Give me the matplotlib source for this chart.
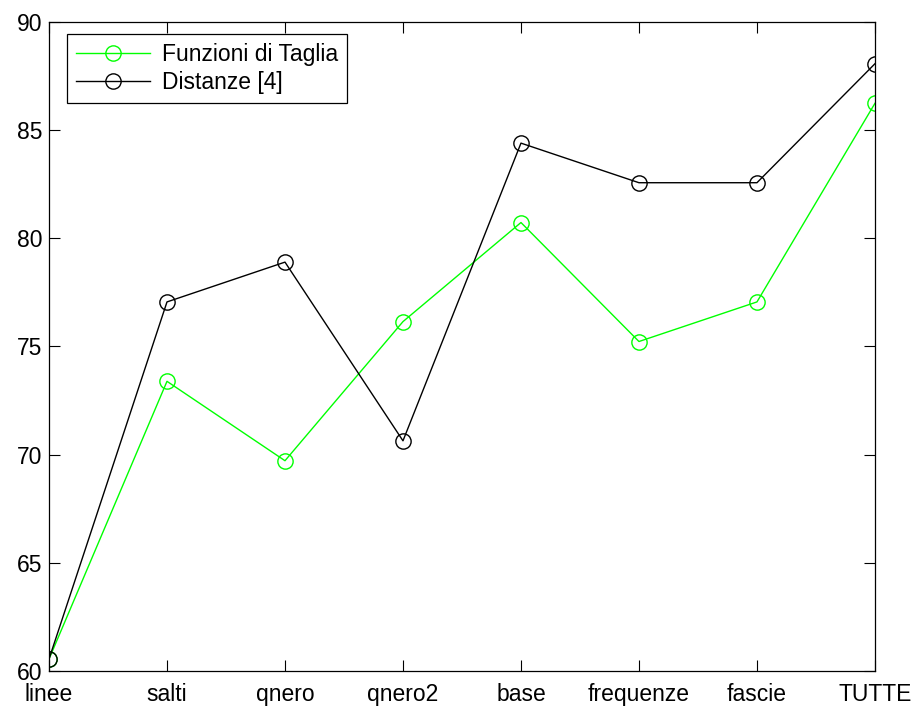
import matplotlib.pyplot as plt

categories = ["linee", "salti", "qnero", "qnero2", "base", "frequenze", "fascie", "TUTTE"]
funzioni_taglia = [60.55, 73.39, 69.72, 76.15, 80.73, 75.23, 77.06, 86.24]
distanze = [60.55, 77.06, 78.90, 70.64, 84.40, 82.57, 82.57, 88.07]
y_ticks = [60, 65, 70, 75, 80, 85, 90]

plt.rcParams["font.family"] = ["Liberation Sans", "DejaVu Sans"]

fig = plt.figure(figsize=(9.21, 7.09), dpi=100)
ax = fig.add_axes([0.0532, 0.0536, 0.8968, 0.9154])

x = list(range(len(categories)))
ax.plot(x, funzioni_taglia, color="#00ff00", lw=1.0, marker="o", ms=11,
        mfc="none", mec="#00ff00", mew=1.0, label="Funzioni di Taglia")
ax.plot(x, distanze, color="black", lw=1.0, marker="o", ms=11,
        mfc="none", mec="black", mew=1.0, label="Distanze [4]")

ax.set_xlim(0, len(categories) - 1)
ax.set_ylim(60, 90)
ax.set_xticks(x)
ax.set_xticklabels(categories)
ax.set_yticks(y_ticks)
ax.tick_params(direction="in", length=8, width=0.8, top=True, right=True,
               labelsize=16.5)
ax.tick_params(axis="x", pad=9)
ax.tick_params(axis="y", pad=5)
for s in ax.spines.values():
    s.set_linewidth(0.9)

leg = ax.legend(loc="upper left", bbox_to_anchor=(0.0218, 0.981), borderaxespad=0,
                fontsize=16.5, fancybox=False, framealpha=1, edgecolor="black",
                handlelength=3.2, handletextpad=0.55, borderpad=0.4, labelspacing=0.2)
leg.get_frame().set_linewidth(0.9)

fig.savefig("out.png", dpi=100)
